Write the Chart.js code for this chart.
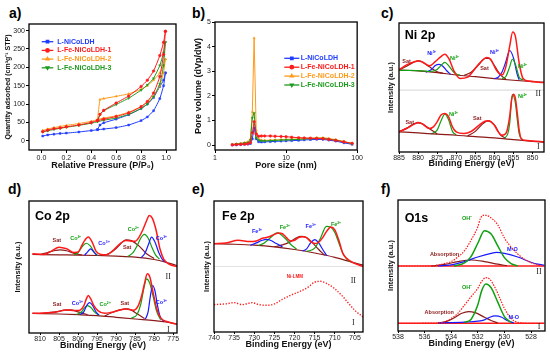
<!DOCTYPE html>
<html>
<head>
<meta charset="utf-8">
<script src="https://cdn.jsdelivr.net/npm/chart.js@4.4.0/dist/chart.umd.min.js"></script>
<style>
    body {margin: 0; width: 550px; height: 354px; position: relative; overflow: hidden; background: #fff}
    canvas {position: absolute}
    .tag {position: absolute; font: bold 14px "Liberation Sans", Arial, sans-serif; line-height: 1; color: #000}
</style>
</head>
<body>
<div class="tag" style="left:9px;top:6px">a)</div>
<div class="tag" style="left:192px;top:6px">b)</div>
<div class="tag" style="left:381px;top:6px">c)</div>
<div class="tag" style="left:8px;top:182px">d)</div>
<div class="tag" style="left:192px;top:182px">e)</div>
<div class="tag" style="left:381px;top:182px">f)</div>
<canvas id="pa"></canvas>
<canvas id="pb"></canvas>
<canvas id="pc"></canvas>
<canvas id="pd"></canvas>
<canvas id="pe"></canvas>
<canvas id="pf"></canvas>
<script>
const FONT = '"Liberation Sans", Arial, sans-serif'
const SERIF = '"Liberation Serif", "DejaVu Serif", serif'

const seriesNames = ["L-NiCoLDH", "L-Fe-NiCoLDH-1", "L-Fe-NiCoLDH-2", "L-Fe-NiCoLDH-3"]

// a) N2 isotherms, adsorption and desorption branches
const adsP = [0.01, 0.05, 0.1, 0.15, 0.2, 0.3, 0.4, 0.45, 0.5, 0.6, 0.7, 0.8, 0.85, 0.9, 0.95, 0.98, 0.995]
const adsBlue = [13, 16, 18, 20, 21, 24, 28, 30, 32, 36, 43, 55, 65, 82, 115, 150, 185]
const adsRed = [25, 29, 33, 35, 38, 43, 50, 55, 59, 66, 76, 93, 107, 130, 175, 235, 298]
const adsOrange = [28, 32, 36, 39, 42, 47, 53, 58, 62, 68, 78, 93, 105, 122, 150, 185, 222]
const adsGreen = [24, 27, 31, 34, 37, 42, 48, 52, 56, 62, 72, 88, 100, 120, 155, 205, 268]
const desP = [0.995, 0.98, 0.95, 0.9, 0.85, 0.8, 0.7, 0.6, 0.5, 0.47, 0.45]
const desBlue = [185, 165, 148, 118, 100, 88, 71, 59, 49, 43, 31]
const desRed = [298, 268, 232, 190, 165, 148, 122, 103, 83, 72, 55]
const desOrange = [222, 205, 185, 165, 150, 140, 128, 121, 115, 112, 58]
const desGreen = [268, 240, 205, 170, 152, 138, 116, 99, 82, 72, 53]
const pressureTicks = [0, 0.2, 0.4, 0.6, 0.8, 1.0]
const quantityTicks = [0, 50, 100, 150, 200, 250, 300]

// b) pore size distribution
const poreSize = [1.75, 2.0, 2.3, 2.6, 2.9, 3.15, 3.35, 3.55, 3.8, 4.1, 4.5, 5, 6, 7, 8.5, 10, 12, 15, 18, 22, 27, 33, 40, 50, 65, 85]
const poreBlue = [0, 0.01, 0.02, 0.03, 0.04, 0.06, 0.25, 0.7, 0.25, 0.13, 0.12, 0.13, 0.14, 0.15, 0.16, 0.17, 0.18, 0.19, 0.21, 0.22, 0.23, 0.23, 0.2, 0.16, 0.09, 0.03]
const poreRed = [0.01, 0.02, 0.03, 0.04, 0.05, 0.1, 0.5, 0.95, 0.45, 0.36, 0.37, 0.37, 0.37, 0.36, 0.35, 0.34, 0.32, 0.3, 0.29, 0.28, 0.27, 0.26, 0.23, 0.19, 0.13, 0.07]
const poreOrange = [0.03, 0.05, 0.07, 0.1, 0.13, 0.25, 1.35, 4.35, 0.6, 0.25, 0.2, 0.19, 0.2, 0.21, 0.22, 0.23, 0.24, 0.25, 0.27, 0.28, 0.3, 0.3, 0.27, 0.22, 0.15, 0.07]
const poreGreen = [0.02, 0.04, 0.06, 0.08, 0.1, 0.2, 1.1, 1.3, 0.3, 0.2, 0.17, 0.17, 0.18, 0.19, 0.2, 0.21, 0.22, 0.23, 0.25, 0.26, 0.27, 0.27, 0.24, 0.2, 0.13, 0.05]
const poreTicks = [1, 10, 100]
const volumeTicks = [0, 1, 2, 3, 4, 5]

// c) Ni 2p, spectrum II (upper) and I (lower), intensity in arbitrary 0-100 units
const niIIRawE = [885, 883, 881, 880, 879, 877, 875.5, 874, 873, 872, 870.5, 869, 867, 865, 863, 862, 861, 859.5, 858, 857, 856, 855.2, 854.5, 853.5, 852.5, 851, 849, 847]
const niIIRaw = [63.6, 67.5, 70, 70.6, 70, 66.8, 70, 74, 75.8, 72.7, 62.3, 57, 58, 65, 71.4, 73.2, 72, 63.6, 59.7, 66, 81.8, 93, 89.6, 68.8, 57, 55, 54.3, 53.8]
const niIIBgE = [885, 880, 875, 870, 865, 860, 855, 850, 847]
const niIIBg = [63.6, 62.9, 61.6, 59.7, 58.4, 56.9, 55.6, 54.5, 54]
const niIISat1E = [885, 883, 881, 880, 879, 877, 875, 873.5]
const niIISat1 = [63.6, 66.5, 69.8, 70.6, 70, 66, 62.2, 61]
const niIISat2E = [868, 866, 864, 862.5, 861.5, 860, 858.5, 857]
const niIISat2 = [59.3, 62, 68, 72.5, 72.5, 67, 60, 56.6]
const niIINi3aE = [878, 876.5, 875.5, 874.5, 873.5, 872.5, 871.5]
const niIINi3a = [61.8, 64, 67, 68, 66.5, 63, 60.3]
const niIINi2aE = [885, 882, 879, 877, 875, 874, 873, 872, 871, 870, 869]
const niIINi2a = [63.2, 63.2, 62.9, 62.4, 64, 67, 69.4, 67, 63, 60.5, 59.5]
const niIINi3bE = [860, 859, 858, 857, 856, 855, 854, 853.5]
const niIINi3b = [56.9, 58, 62, 70, 78.7, 73, 60, 56]
const niIINi2bE = [858, 857, 856, 855.3, 854.5, 853.5, 852.5]
const niIINi2b = [56.9, 58.5, 66, 71.9, 68, 58, 55.8]
const niIRawE = [885, 883, 881, 880, 879, 877, 876, 875, 874, 873, 872, 871, 870, 868, 866, 864, 862.5, 861.5, 860, 859, 858, 857, 856, 855.5, 855, 854.5, 854, 853.5, 853, 852, 850, 847]
const niIRaw = [15.6, 18.2, 21.6, 22.9, 22, 18.2, 19.5, 23.4, 28.6, 29.9, 27.3, 19.5, 15.6, 14.3, 16.1, 20.8, 23.9, 24.2, 20.8, 15.6, 13, 14.3, 27.3, 40.3, 44.7, 41.6, 29.9, 16.9, 10.4, 9.1, 8.6, 7.8]
const niIBgE = [885, 880, 875, 870, 865, 860, 855, 850, 847]
const niIBg = [15.6, 14.8, 13.8, 13, 11.9, 10.9, 9.6, 8.3, 7.5]
const niISat1E = [885, 883, 881, 880, 879, 877, 875]
const niISat1 = [15.6, 18.5, 22, 22.6, 22, 18, 14]
const niISat2E = [867, 865, 863, 861.8, 860, 858.5, 857]
const niISat2 = [12.5, 16, 22, 24.2, 21, 13.5, 10.6]
const niINi2aE = [876.5, 875, 874, 873, 872, 871, 870]
const niINi2a = [14, 17, 24, 29.4, 25, 16, 13.2]
const niINi2bE = [857.5, 856.5, 856, 855.3, 854.5, 854, 853.5, 852.5]
const niINi2b = [10.6, 14, 22, 44.4, 38, 25, 14, 9.3]
const niTicks = [885, 880, 875, 870, 865, 860, 855, 850]

// d) Co 2p
const coIIRawE = [812, 809, 807, 805, 803, 801, 800, 799, 798.3, 797.3, 796.3, 795.3, 794, 792.5, 791, 789, 787.5, 786, 785, 784, 783, 782, 781.3, 780.5, 779.5, 778.5, 777.5, 776, 774]
const coIIRaw = [60, 59.5, 62, 65, 63.8, 61, 61.3, 66.3, 70, 72.7, 68.9, 62, 59.5, 59.2, 62, 67.6, 70.1, 69.6, 69.5, 72.5, 78, 85, 89, 87, 78, 64, 56, 52, 50.4]
const coIIBgE = [812, 805, 800, 795, 790, 785, 780, 777, 774]
const coIIBg = [59.5, 59.2, 59, 58.7, 58.2, 57.5, 55.7, 53.7, 51.1]
const coIISat1E = [810, 808, 806, 804.8, 803, 801, 799]
const coIISat1 = [59.4, 61, 62.5, 63, 62.3, 60.3, 59.1]
const coIISat2E = [794, 792, 790, 788.5, 787.4, 786, 784, 782, 780]
const coIISat2 = [58.7, 60, 64, 68.5, 70.6, 70, 66, 60, 56.5]
const coIICo2aE = [801, 800, 799, 797.9, 796.8, 795.8, 794.8]
const coIICo2a = [59, 61, 65, 68, 66, 61.5, 58.7]
const coIICo3aE = [798.3, 797.5, 796.7, 795.9, 795.1]
const coIICo3a = [59, 61.5, 63.8, 61.5, 58.8]
const coIICo2bE = [787, 785.5, 784.5, 783.5, 782.6, 781.6, 780.6, 779.6, 778.6]
const coIICo2b = [57.9, 61, 66, 72, 74.7, 72, 65, 59, 56]
const coIICo3bE = [783.5, 782.5, 781.5, 780.7, 779.8, 778.8, 777.8, 776.8]
const coIICo3b = [57, 60, 67, 72.7, 69, 61, 55.5, 53.5]
const coIRawE = [812, 809, 806, 803, 801, 799.5, 798.5, 797.8, 797.3, 796.7, 795.8, 794.8, 793, 791.5, 789.5, 787.4, 785.5, 784.3, 783.3, 782.5, 781.8, 781.1, 780.3, 779.3, 778.3, 776.5, 774]
const coIRaw = [14.9, 15.2, 15.7, 17.5, 17, 17.3, 20.5, 26, 28.4, 26, 20.5, 17, 14.9, 15.5, 17, 18.2, 17.3, 20, 28, 38, 44.8, 42, 31, 18, 11.5, 8.5, 6.8]
const coIBgE = [812, 805, 800, 795, 790, 785, 780, 777, 774]
const coIBg = [14.9, 14.4, 13.9, 13.2, 11.9, 10.6, 9.4, 8.4, 6.8]
const coISat1E = [810, 806, 803.5, 802, 800, 797.5]
const coISat1 = [14.8, 16, 17.3, 17.5, 16, 13.8]
const coISat2E = [793, 791, 789, 787.4, 786, 784.5, 782.5]
const coISat2 = [13, 15.5, 17.5, 18.3, 17.3, 14.5, 11]
const coICo2aE = [800.5, 799.3, 798.3, 797.5, 796.7, 795.7, 794.5]
const coICo2a = [14, 15.5, 19, 20.8, 19.5, 16, 13.4]
const coICo3aE = [799.5, 798.5, 797.8, 797, 796.2, 795.4, 794.5]
const coICo3a = [14, 16, 20.5, 23, 21, 16.5, 13.5]
const coICo2bE = [786, 784.5, 783.5, 782.7, 782, 781.2, 780.3, 779.3, 778.3]
const coICo2b = [11.2, 14, 22, 34, 41, 38, 28, 16, 10]
const coICo3bE = [782.3, 781.6, 781, 780.4, 779.8, 779.2, 778.5, 777.5]
const coICo3b = [10.5, 16, 28, 36, 32, 22, 13, 9]
const coTicks = [810, 805, 800, 795, 790, 785, 780, 775]

// e) Fe 2p
const feIIRawE = [740, 737, 734, 731, 729.5, 728, 726.5, 725, 724, 723, 722, 721, 720, 719, 718, 717, 716, 715, 714, 713, 712, 711, 710, 709, 708, 707, 705.5, 703]
const feIIRaw = [67.4, 68, 70, 69, 69.5, 71.5, 72.5, 74.5, 75.6, 75, 72, 69.5, 70, 72, 72.7, 72, 69, 67.5, 68.5, 72, 77, 80.2, 78, 70, 60, 56, 53, 50]
const feIIBgE = [740, 735, 730, 725, 720, 715, 710, 706, 703]
const feIIBg = [67.4, 67, 66.3, 65, 63, 60.3, 57, 53.5, 51]
const feIIFe3aE = [731, 729.5, 728, 727, 726, 724.5, 723]
const feIIFe3a = [66.2, 68, 70, 70.7, 70, 67.5, 65]
const feIIFe2aE = [729, 727.5, 726, 724.3, 722.5, 721, 719.5]
const feIIFe2a = [66, 68, 72, 75.6, 72, 67, 63.3]
const feIISatE = [725, 723, 721, 719.5, 718.3, 717, 715.5, 714, 712.5]
const feIISat = [65, 66.5, 69, 72, 73, 72, 68, 63, 58.5]
const feIIFe3bE = [718, 717, 716, 715, 714, 713, 712]
const feIIFe3b = [61.8, 63.5, 68, 70.5, 68, 63, 58.3]
const feIIFe2bE = [717, 715, 713.5, 712.1, 711, 710, 709, 708, 706.5]
const feIIFe2b = [61.5, 64, 72, 80.7, 80, 76, 68, 60, 53.7]
const feIE = [740, 737, 735, 733, 730.5, 729, 727, 725, 723, 721, 719, 717, 715, 713.5, 712, 710, 708, 706.5, 705, 703]
const feI = [20.9, 21.5, 22.4, 20.9, 22.4, 21, 20.4, 21.4, 25, 28, 30.5, 33.5, 38, 38.7, 37, 33, 27, 21.6, 16.5, 11.5]
const feTicks = [740, 735, 730, 725, 720, 715, 710, 705]

// f) O 1s
const oIIEnvE = [538, 536, 535, 534.5, 534, 533.5, 533, 532.5, 532, 531.8, 531.5, 531.1, 530.5, 530, 529.5, 529, 528.5, 528, 527.5, 527]
const oIIEnv = [49.6, 49.6, 50.3, 51.5, 53, 56.5, 61.3, 69.5, 79.6, 86, 88.5, 87, 81, 71, 64, 58.8, 54.7, 52.2, 50.4, 49.6]
const oIIOhE = [533.8, 533, 532.5, 532, 531.5, 531, 530.5, 530, 529.5, 529]
const oIIOh = [49.6, 52, 57, 67, 76.6, 74, 65, 56, 51.5, 49.6]
const oIIMoE = [535, 534, 533, 532, 531, 530.6, 530, 529, 528, 527.5, 527]
const oIIMo = [49.6, 50.5, 53, 56.5, 59.3, 60, 59.2, 56.5, 52.5, 51, 50.2]
const oIIAbsE = [535.5, 534.5, 533.5, 532.5, 531.5, 530.5, 529.8]
const oIIAbs = [49.6, 50.8, 53, 54.2, 53, 51, 49.8]
const oBaseE = [538, 527]
const oIIBase = [49.6, 49.6]
const oIBase = [5.9, 5.9]
const oIEnvE = [538, 535.5, 534.5, 534, 533.5, 533, 532.5, 532, 531.7, 531.4, 531.1, 530.7, 530.3, 530, 529.5, 529, 528, 527]
const oIEnv = [5.9, 6, 7, 9.5, 13.5, 19.8, 26.2, 32.6, 38, 40.7, 39.5, 33, 24, 17.3, 9.7, 6.6, 5.9, 5.9]
const oIOhE = [533, 532.5, 532, 531.7, 531.4, 531, 530.5, 530, 529.5]
const oIOh = [6.5, 9, 20, 31, 35.9, 33, 22, 11, 6.5]
const oIAbsE = [535, 534.3, 533.7, 533.2, 532.7, 532.2, 531.5, 531, 530.5]
const oIAbs = [6, 7.5, 10.5, 13.5, 14.8, 14, 10.5, 8, 6.2]
const oIMoE = [535, 533, 532, 531.5, 531.1, 530.7, 530.2, 529.8, 529.3]
const oIMo = [6.2, 6.8, 7.5, 8.5, 10.5, 11.5, 10.5, 8, 6.2]
const oTicks = [538, 536, 534, 532, 530, 528]

const BLUE = "#1a1aff", RED = "#ff1a1a", GREEN = "#12a012", MAROON = "#8b1a1a", ORANGE = "#ff9a1a"
const seriesColors = ["#1f3cff", RED, ORANGE, "#1e9a1e"]
const seriesMarks = [["rect", 0], ["circle", 0], ["triangle", 0], ["triangle", 180]]

const pts = (xs, ys) => xs.map((x, i) => ({x, y: ys[i]}))

const curve = (xs, ys, color, extra = {}) => ({
    data: pts(xs, ys), borderColor: color, backgroundColor: color,
    borderWidth: 1.2, pointRadius: 0, cubicInterpolationMode: "monotone", ...extra
})
const raw = (xs, ys, extra) => curve(xs, ys, RED, {borderWidth: 1.5, ...extra})

const series = (xs, ys, i) => ({
    data: pts(xs, ys), borderColor: seriesColors[i], backgroundColor: seriesColors[i],
    borderWidth: 1, pointRadius: 1.3, pointStyle: seriesMarks[i][0], pointRotation: seriesMarks[i][1],
    pointBorderWidth: 0.5, tension: 0.15
})

const framePlugin = {
    id: "frame",
    afterDatasetsDraw(chart) {
        const {ctx, chartArea: a} = chart
        ctx.save()
        ctx.strokeStyle = "#000"
        ctx.lineWidth = 1.3
        ctx.strokeRect(a.left, a.top, a.right - a.left, a.bottom - a.top)
        ctx.restore()
    }
}

function notesPlugin(notes) {
    return {
        id: "notes",
        afterDatasetsDraw(chart) {
            const {ctx, scales: {x, y}} = chart
            ctx.save()
            ctx.textBaseline = "middle"
            for (let n of notes) {
                ctx.font = n.f || "bold 5.5px " + FONT
                ctx.fillStyle = n.c || "#222"
                ctx.textAlign = n.a || "center"
                ctx.fillText(n.t, x.getPixelForValue(n.x), y.getPixelForValue(n.y))
            }
            ctx.restore()
        }
    }
}

function legendPlugin(o) {
    return {
        id: "seriesLegend",
        afterDatasetsDraw(chart) {
            const {ctx, chartArea: a} = chart
            ctx.save()
            seriesNames.forEach((name, i) => {
                const x0 = a.left + o.dx, y = a.top + o.dy + i * o.step
                ctx.strokeStyle = seriesColors[i]
                ctx.fillStyle = seriesColors[i]
                ctx.lineWidth = 1.3
                ctx.beginPath()
                ctx.moveTo(x0, y)
                ctx.lineTo(x0 + o.len, y)
                ctx.stroke()
                Chart.helpers.drawPoint(ctx, {pointStyle: seriesMarks[i][0], rotation: seriesMarks[i][1], radius: 1.7, borderWidth: 0.5}, x0 + o.len / 2, y)
                ctx.font = "bold 7px " + FONT
                ctx.textAlign = "left"
                ctx.textBaseline = "middle"
                ctx.fillText(name, a.left + o.tx, y)
            })
            ctx.restore()
        }
    }
}

const tickFont = {family: FONT, size: 7}
const titleFont = size => ({family: FONT, size, weight: "bold"})

function fixedTicks(values) {
    return s => { s.ticks = values.map(value => ({value})) }
}

function energyAxis(min, max, values) {
    return {
        type: "linear", min, max, reverse: true,
        afterBuildTicks: fixedTicks(values),
        ticks: {font: tickFont, color: "#222", padding: 0, maxRotation: 0, autoSkip: false},
        grid: {drawOnChartArea: false, tickLength: 2, color: "#000"},
        border: {display: false},
        title: {display: true, text: "Binding Energy (eV)", font: titleFont(9), color: "#111", padding: 0}
    }
}

const intensityAxis = () => ({
    min: 0, max: 100,
    ticks: {display: false},
    grid: {display: false},
    border: {display: false},
    title: {display: true, text: "Intensity (a.u.)", font: titleFont(7.5), color: "#111", padding: {top: 4, bottom: 0}}
})

function panel(id, box, frame, opt) {
    const cv = document.getElementById(id)
    cv.style.left = box.x + "px"
    cv.style.top = box.y + "px"
    cv.width = box.w
    cv.height = box.h
    const yW = frame.l - box.x
    const xH = box.y + box.h - frame.b

    return new Chart(cv, {
        type: "line",
        data: {datasets: opt.datasets},
        options: {
            responsive: false,
            animation: false,
            events: [],
            layout: {autoPadding: false, padding: {top: frame.t - box.y, right: box.x + box.w - frame.r, left: 0, bottom: 0}},
            plugins: {legend: {display: false}, tooltip: {enabled: false}},
            scales: {
                x: {...opt.x, afterFit: s => { s.height = xH }},
                y: {...opt.y, afterFit: s => { s.width = yW }}
            }
        },
        plugins: [framePlugin, ...(opt.plugins || [])]
    })
}

// a)
panel("pa", {x: 0, y: 16, w: 180, h: 155}, {l: 29, t: 24, r: 176, b: 150}, {
    datasets: [
        series([...adsP, ...desP], [...adsRed, ...desRed], 1),
        series([...adsP, ...desP], [...adsGreen, ...desGreen], 3),
        series([...adsP, ...desP], [...adsOrange, ...desOrange], 2),
        series([...adsP, ...desP], [...adsBlue, ...desBlue], 0),
    ],
    x: {
        type: "linear", min: -0.1, max: 1.08,
        afterBuildTicks: fixedTicks(pressureTicks),
        ticks: {font: tickFont, color: "#222", padding: 1, maxRotation: 0, autoSkip: false, callback: v => v.toFixed(1)},
        grid: {drawOnChartArea: false, tickLength: 3, color: "#000"},
        border: {display: false},
        title: {display: true, text: "Relative Pressure (P/P₀)", font: titleFont(9), color: "#111", padding: 0}
    },
    y: {
        min: -25, max: 318,
        afterBuildTicks: fixedTicks(quantityTicks),
        ticks: {font: tickFont, color: "#222", padding: 1},
        grid: {drawOnChartArea: false, tickLength: 3, color: "#000"},
        border: {display: false},
        title: {display: true, text: "Quantity adsorbed (cm³g⁻¹ STP)", font: titleFont(7), color: "#111", padding: {top: 4, bottom: 0}}
    },
    plugins: [legendPlugin({dx: 12.7, dy: 17.7, step: 8.7, len: 11.6, tx: 28.3})]
})

// b)
panel("pb", {x: 190, y: 14, w: 174, h: 157}, {l: 215, t: 22, r: 363, b: 150}, {
    datasets: [
        series(poreSize, poreRed, 1),
        series(poreSize, poreGreen, 3),
        series(poreSize, poreOrange, 2),
        series(poreSize, poreBlue, 0),
    ].map(d => ({...d, tension: 0})),
    x: {
        type: "logarithmic", min: 1, max: 100,
        afterBuildTicks: fixedTicks(poreTicks),
        ticks: {font: tickFont, color: "#222", padding: 1, maxRotation: 0, autoSkip: false, callback: v => String(v)},
        grid: {drawOnChartArea: false, tickLength: 3, color: "#000"},
        border: {display: false},
        title: {display: true, text: "Pore size (nm)", font: titleFont(9), color: "#111", padding: 0}
    },
    y: {
        min: -0.2, max: 5,
        afterBuildTicks: fixedTicks(volumeTicks),
        ticks: {font: tickFont, color: "#222", padding: 1},
        grid: {drawOnChartArea: false, tickLength: 3, color: "#000"},
        border: {display: false},
        title: {display: true, text: "Pore volume (dVp/dW)", font: titleFont(9), color: "#111", padding: {top: 3, bottom: 0}}
    },
    plugins: [legendPlugin({dx: 69.3, dy: 36.3, step: 8.9, len: 15, tx: 85.7})]
})

// c)
panel("pc", {x: 382, y: 14, w: 168, h: 155}, {l: 399, t: 23, r: 544, b: 152}, {
    datasets: [
        raw(niIIRawE, niIIRaw), raw(niIRawE, niIRaw),
        curve(niIINi2aE, niIINi2a, GREEN), curve(niIINi2bE, niIINi2b, GREEN),
        curve(niIINi3aE, niIINi3a, BLUE), curve(niIINi3bE, niIINi3b, BLUE),
        curve(niIISat1E, niIISat1, MAROON), curve(niIISat2E, niIISat2, MAROON),
        curve(niIBgE, niIBg, MAROON), curve(niIIBgE, niIIBg, MAROON),
        curve(niINi2aE, niINi2a, GREEN), curve(niINi2bE, niINi2b, GREEN),
        curve(niISat1E, niISat1, MAROON), curve(niISat2E, niISat2, MAROON),
        curve([885, 847], [48, 48], "#d6d6d6", {borderWidth: 1})
    ],
    x: energyAxis(847, 885, niTicks),
    y: intensityAxis(),
    plugins: [notesPlugin([
        {t: "Ni 2p", x: 883.5, y: 90, c: "#000", a: "left", f: "bold 12.5px " + FONT},
        {t: "Sat", x: 883, y: 70, c: MAROON},
        {t: "Ni³⁺", x: 876.4, y: 76.6, c: BLUE},
        {t: "Ni²⁺", x: 870.4, y: 72.7, c: GREEN},
        {t: "Sat", x: 862.6, y: 65, c: MAROON},
        {t: "Ni³⁺", x: 859.9, y: 77, c: BLUE},
        {t: "Ni²⁺", x: 852.6, y: 66.2, c: GREEN},
        {t: "Sat", x: 882.2, y: 22.6, c: MAROON},
        {t: "Ni²⁺", x: 870.7, y: 29, c: GREEN},
        {t: "Sat", x: 864.5, y: 26, c: MAROON},
        {t: "Ni²⁺", x: 852.6, y: 42.9, c: GREEN},
        {t: "II", x: 848.5, y: 44.7, f: "8px " + SERIF},
        {t: "I", x: 848.5, y: 3.9, f: "8px " + SERIF},
    ])]
})

// d)
panel("pd", {x: 9, y: 192, w: 172, h: 159}, {l: 29, t: 201, r: 177, b: 333}, {
    datasets: [
        raw(coIIRawE, coIIRaw), raw(coIRawE, coIRaw),
        curve(coIICo3aE, coIICo3a, BLUE), curve(coIICo3bE, coIICo3b, BLUE),
        curve(coIICo2aE, coIICo2a, GREEN), curve(coIICo2bE, coIICo2b, GREEN),
        curve(coIISat1E, coIISat1, MAROON), curve(coIISat2E, coIISat2, MAROON),
        curve(coICo3aE, coICo3a, BLUE), curve(coICo3bE, coICo3b, BLUE),
        curve(coICo2aE, coICo2a, GREEN), curve(coICo2bE, coICo2b, GREEN),
        curve(coISat1E, coISat1, MAROON), curve(coISat2E, coISat2, MAROON),
        curve(coIIBgE, coIIBg, MAROON), curve(coIBgE, coIBg, MAROON),
    ],
    x: energyAxis(774, 812.9, coTicks),
    y: intensityAxis(),
    plugins: [notesPlugin([
        {t: "Co 2p", x: 811.3, y: 88.4, c: "#000", a: "left", f: "bold 12.5px " + FONT},
        {t: "Sat", x: 805.6, y: 70, c: MAROON},
        {t: "Co²⁺", x: 800.6, y: 71.4, c: GREEN},
        {t: "Co³⁺", x: 793.2, y: 67.6, c: BLUE},
        {t: "Sat", x: 787.1, y: 65, c: MAROON},
        {t: "Co²⁺", x: 785.5, y: 78.2, c: GREEN},
        {t: "Co³⁺", x: 778.1, y: 71.4, c: BLUE},
        {t: "Sat", x: 805.5, y: 21.5, c: MAROON},
        {t: "Co³⁺", x: 800.2, y: 22, c: BLUE},
        {t: "Co²⁺", x: 792.9, y: 21.3, c: GREEN},
        {t: "Sat", x: 787.7, y: 22, c: MAROON},
        {t: "Co³⁺", x: 778.1, y: 23.3, c: BLUE},
        {t: "II", x: 776.3, y: 42.3, f: "8px " + SERIF},
        {t: "I", x: 776.3, y: 2.5, f: "8px " + SERIF},
    ])]
})

// e)
panel("pe", {x: 198, y: 192, w: 167, h: 158}, {l: 214, t: 201, r: 363, b: 332}, {
    datasets: [
        raw(feIIRawE, feIIRaw),
        raw(feIE, feI, {borderWidth: 1.4, borderDash: [1.3, 1.6]}),
        curve(feIIFe3aE, feIIFe3a, BLUE), curve(feIIFe3bE, feIIFe3b, BLUE),
        curve(feIIFe2aE, feIIFe2a, GREEN), curve(feIIFe2bE, feIIFe2b, GREEN),
        curve(feIISatE, feIISat, MAROON), curve(feIIBgE, feIIBg, MAROON),
        curve([740, 703], [50, 50], "#e2e2e2", {borderWidth: 1})
    ],
    x: energyAxis(703, 740, feTicks),
    y: intensityAxis(),
    plugins: [notesPlugin([
        {t: "Fe 2p", x: 738, y: 88.3, c: "#000", a: "left", f: "bold 12.5px " + FONT},
        {t: "Fe³⁺", x: 729.3, y: 77.1, c: BLUE},
        {t: "Fe²⁺", x: 722.4, y: 79.6, c: GREEN},
        {t: "Fe³⁺", x: 716, y: 80.2, c: BLUE},
        {t: "Fe²⁺", x: 709.7, y: 82.2, c: GREEN},
        {t: "Ni-LMM", x: 719.9, y: 42.5, c: RED, f: "bold 4.5px " + FONT},
        {t: "II", x: 705.4, y: 38.7, f: "8px " + SERIF},
        {t: "I", x: 705.4, y: 7.1, f: "8px " + SERIF},
    ])]
})

// f)
panel("pf", {x: 382, y: 191, w: 168, h: 158}, {l: 398, t: 200, r: 545, b: 331}, {
    datasets: [
        raw(oIIEnvE, oIIEnv, {borderWidth: 1.2, borderDash: [1.5, 1.2]}),
        raw(oIEnvE, oIEnv, {borderWidth: 1.2, borderDash: [1.5, 1.2]}),
        curve(oIIOhE, oIIOh, GREEN, {borderWidth: 1.5}), curve(oIOhE, oIOh, GREEN, {borderWidth: 1.5}),
        curve(oIIMoE, oIIMo, BLUE), curve(oIMoE, oIMo, BLUE),
        curve(oIIAbsE, oIIAbs, MAROON), curve(oIAbsE, oIAbs, MAROON),
        raw(oBaseE, oIIBase, {borderWidth: 1.3}), raw(oBaseE, oIBase, {borderWidth: 1.3}),
    ],
    x: energyAxis(526.95, 538, oTicks),
    y: intensityAxis(),
    plugins: [notesPlugin([
        {t: "O1s", x: 537.5, y: 85.8, c: "#000", a: "left", f: "bold 12.5px " + FONT},
        {t: "OH⁻", x: 532.8, y: 86, c: GREEN},
        {t: "Absorption", x: 534.5, y: 58.5, c: MAROON},
        {t: "M-O", x: 529.4, y: 62.3, c: BLUE},
        {t: "OH⁻", x: 532.8, y: 33.3, c: GREEN},
        {t: "Absorption", x: 534.9, y: 14, c: MAROON},
        {t: "M-O", x: 529.3, y: 10.4, c: BLUE},
        {t: "II", x: 527.4, y: 44.8, f: "8px " + SERIF},
        {t: "I", x: 527.4, y: 3.5, f: "8px " + SERIF},
    ])]
})
</script>
</body>
</html>
